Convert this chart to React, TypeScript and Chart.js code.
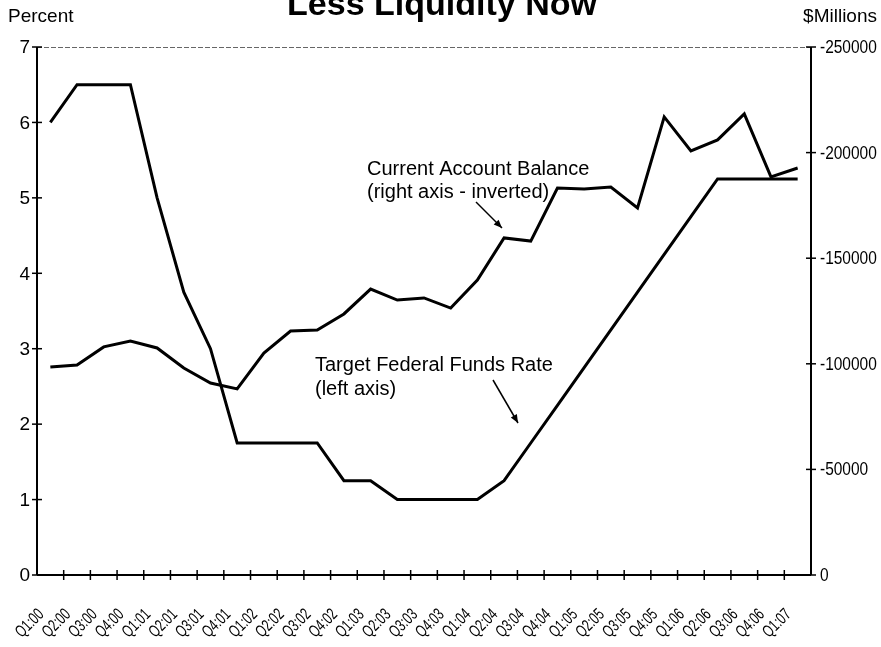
import React, { useEffect, useRef } from "react";
import { Chart, registerables } from "chart.js";

Chart.register(...registerables);

const categories = [
  "Q1:00", "Q2:00", "Q3:00", "Q4:00",
  "Q1:01", "Q2:01", "Q3:01", "Q4:01",
  "Q1:02", "Q2:02", "Q3:02", "Q4:02",
  "Q1:03", "Q2:03", "Q3:03", "Q4:03",
  "Q1:04", "Q2:04", "Q3:04", "Q4:04",
  "Q1:05", "Q2:05", "Q3:05", "Q4:05",
  "Q1:06", "Q2:06", "Q3:06", "Q4:06",
  "Q1:07",
];

const fedFundsRate = [
  6.0, 6.5, 6.5, 6.5,
  5.0, 3.75, 3.0, 1.75,
  1.75, 1.75, 1.75, 1.25,
  1.25, 1.0, 1.0, 1.0,
  1.0, 1.25, 1.75, 2.25,
  2.75, 3.25, 3.75, 4.25,
  4.75, 5.25, 5.25, 5.25,
  5.25,
];

const currentAccount = [
  -98500, -99400, -108000, -110800,
  -107500, -98000, -90900, -88100,
  -105100, -115500, -116000, -123600,
  -135400, -130200, -131200, -126400,
  -139700, -159600, -158100, -183200,
  -182800, -183700, -173800, -216900,
  -200800, -206000, -218300, -188500,
  -192700,
];

const leftTicks = [0, 1, 2, 3, 4, 5, 6, 7];
const rightTicks = [0, -50000, -100000, -150000, -200000, -250000];

const FONT = "'Liberation Sans', Arial, sans-serif";

function arrow(ctx: CanvasRenderingContext2D, x1: number, y1: number, x2: number, y2: number) {
  ctx.beginPath();
  ctx.moveTo(x1, y1);
  ctx.lineTo(x2, y2);
  ctx.lineWidth = 1.5;
  ctx.stroke();
  const ang = Math.atan2(y2 - y1, x2 - x1);
  const len = 9;
  const w = 0.4;
  ctx.beginPath();
  ctx.moveTo(x2, y2);
  ctx.lineTo(x2 - len * Math.cos(ang - w), y2 - len * Math.sin(ang - w));
  ctx.lineTo(x2 - len * Math.cos(ang + w), y2 - len * Math.sin(ang + w));
  ctx.closePath();
  ctx.fill();
}

const decorPlugin = {
  id: "decor",
  afterDraw(chart: any) {
    const ctx: CanvasRenderingContext2D = chart.ctx;
    const a = chart.chartArea;
    const xs = chart.scales.x;
    const ys = chart.scales.y;
    const y1s = chart.scales.y1;
    ctx.save();
    ctx.fillStyle = "#000";
    ctx.strokeStyle = "#000";

    // top border (faint dashed)
    ctx.strokeStyle = "#666";
    ctx.lineWidth = 1;
    ctx.setLineDash([5, 2]);
    ctx.beginPath();
    ctx.moveTo(a.left, a.top + 0.5);
    ctx.lineTo(a.right, a.top + 0.5);
    ctx.stroke();
    ctx.setLineDash([]);

    // axes
    ctx.strokeStyle = "#000";
    ctx.lineWidth = 2;
    ctx.beginPath();
    ctx.moveTo(a.left, a.top);
    ctx.lineTo(a.left, a.bottom);
    ctx.moveTo(a.right, a.top);
    ctx.lineTo(a.right, a.bottom);
    ctx.moveTo(a.left, a.bottom);
    ctx.lineTo(a.right, a.bottom);
    ctx.stroke();

    // left ticks + labels
    ctx.lineWidth = 1.5;
    ctx.font = `19px ${FONT}`;
    ctx.textAlign = "right";
    ctx.textBaseline = "middle";
    for (const v of leftTicks) {
      const py = ys.getPixelForValue(v);
      ctx.beginPath();
      ctx.moveTo(a.left - 5, py);
      ctx.lineTo(a.left + 5, py);
      ctx.stroke();
      ctx.fillText(String(v), a.left - 7, py + 1);
    }

    // right ticks + labels
    ctx.textAlign = "left";
    ctx.font = `18px ${FONT}`;
    for (const v of rightTicks) {
      const py = y1s.getPixelForValue(v);
      ctx.beginPath();
      ctx.moveTo(a.right - 5, py);
      ctx.lineTo(a.right + 5, py);
      ctx.stroke();
      ctx.save();
      ctx.translate(a.right + 9, py + 1);
      ctx.scale(0.86, 1);
      ctx.fillText(String(v), 0, 0);
      ctx.restore();
    }

    // x ticks between categories
    for (let i = 1; i < categories.length; i++) {
      const px = (xs.getPixelForValue(i - 1) + xs.getPixelForValue(i)) / 2;
      ctx.beginPath();
      ctx.moveTo(px, a.bottom - 5);
      ctx.lineTo(px, a.bottom + 5);
      ctx.stroke();
    }

    // x labels rotated
    ctx.font = `17px ${FONT}`;
    ctx.textAlign = "right";
    ctx.textBaseline = "middle";
    categories.forEach((lab, i) => {
      const cx = xs.getPixelForValue(i);
      ctx.save();
      ctx.translate(cx - 9, a.bottom + 37);
      ctx.rotate(-Math.PI / 4);
      ctx.scale(0.7, 1);
      ctx.fillText(lab, 0, 0);
      ctx.restore();
    });

    // title & axis titles
    ctx.textBaseline = "alphabetic";
    ctx.textAlign = "center";
    ctx.font = `bold 34px ${FONT}`;
    ctx.fillText("Less Liquidity Now", 442, 15);
    ctx.font = `19px ${FONT}`;
    ctx.textAlign = "left";
    ctx.fillText("Percent", 8, 22);
    ctx.textAlign = "right";
    ctx.fillText("$Millions", 877, 22);

    // annotations
    ctx.textAlign = "left";
    ctx.font = `20px ${FONT}`;
    ctx.fillText("Current Account Balance", 367, 175);
    ctx.fillText("(right axis - inverted)", 367, 198);
    ctx.fillText("Target Federal Funds Rate", 315, 371);
    ctx.fillText("(left axis)", 315, 395);

    arrow(ctx, 476, 202, 502, 228);
    arrow(ctx, 493, 380, 518, 423);

    ctx.restore();
  },
};

export default function App() {
  const ref = useRef<HTMLCanvasElement | null>(null);
  useEffect(() => {
    if (!ref.current) return;
    const chart = new Chart(ref.current, {
      type: "line",
      data: {
        labels: categories,
        datasets: [
          {
            label: "Target Federal Funds Rate",
            data: fedFundsRate,
            yAxisID: "y",
            borderColor: "#000",
            borderWidth: 3,
            pointRadius: 0,
            tension: 0,
            fill: false,
          },
          {
            label: "Current Account Balance",
            data: currentAccount,
            yAxisID: "y1",
            borderColor: "#000",
            borderWidth: 3,
            pointRadius: 0,
            tension: 0,
            fill: false,
          },
        ],
      },
      options: {
        responsive: false,
        animation: false,
        layout: { padding: { left: 37, right: 70, top: 47, bottom: 72 } },
        plugins: {
          legend: { display: false },
          title: { display: false },
          tooltip: { enabled: false },
        },
        scales: {
          x: { type: "category", display: false, offset: true },
          y: { display: false, min: 0, max: 7 },
          y1: { display: false, min: -250000, max: 0, reverse: true },
        },
      },
      plugins: [decorPlugin],
    });
    return () => chart.destroy();
  }, []);
  return (
    <div style={{ position: "absolute", left: 0, top: 0, width: 881, height: 647, background: "#fff" }}>
      <canvas ref={ref} width={881} height={647} style={{ display: "block" }} />
    </div>
  );
}
